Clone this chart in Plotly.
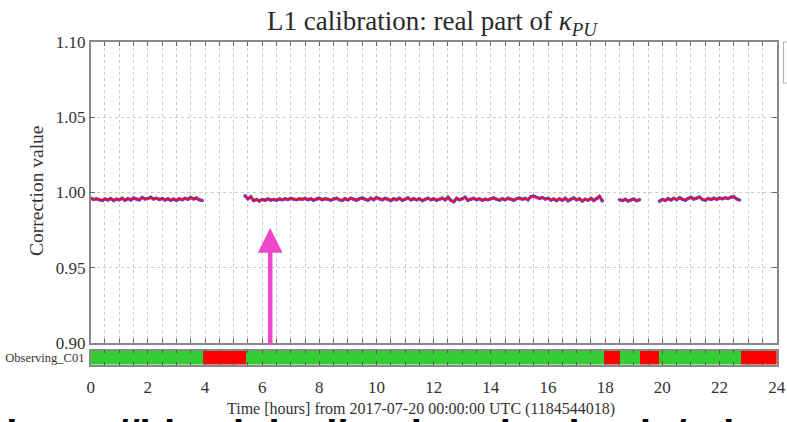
import numpy as np
import plotly.graph_objects as go

# Correction factor samples, one every 0.1 h, grouped by locked stretch
seg_starts = [0.0, 5.4, 18.5, 19.9]
seg1 = [0.9962, 0.9954, 0.9958, 0.9951, 0.9947, 0.9957, 0.9950, 0.9960, 0.9946, 0.9956,
        0.9952, 0.9961, 0.9948, 0.9959, 0.9950, 0.9963, 0.9955, 0.9951, 0.9966, 0.9957,
        0.9960, 0.9968, 0.9956, 0.9962, 0.9953, 0.9960, 0.9950, 0.9958, 0.9949, 0.9956,
        0.9947, 0.9959, 0.9952, 0.9961, 0.9955, 0.9967, 0.9957, 0.9963, 0.9951, 0.9946]
seg2 = [0.9978, 0.9958, 0.9972, 0.9946, 0.9954, 0.9944, 0.9953, 0.9948, 0.9957, 0.9950,
        0.9954, 0.9948, 0.9957, 0.9951, 0.9959, 0.9953, 0.9961, 0.9955, 0.9952, 0.9958,
        0.9955, 0.9961, 0.9951, 0.9958, 0.9949, 0.9956, 0.9962, 0.9952, 0.9959, 0.9955,
        0.9949, 0.9956, 0.9962, 0.9952, 0.9947, 0.9959, 0.9951, 0.9962, 0.9955, 0.9949,
        0.9958, 0.9964, 0.9955, 0.9948, 0.9961, 0.9952, 0.9966, 0.9957, 0.9951, 0.9961,
        0.9955, 0.9946, 0.9958, 0.9952, 0.9962, 0.9949, 0.9955, 0.9964, 0.9951, 0.9958,
        0.9952, 0.9958, 0.9946, 0.9955, 0.9962, 0.9951, 0.9958, 0.9948, 0.9955, 0.9962,
        0.9951, 0.9968, 0.9948, 0.9938, 0.9961, 0.9952, 0.9958, 0.9969, 0.9948, 0.9955,
        0.9962, 0.9952, 0.9958, 0.9948, 0.9955, 0.9952, 0.9958, 0.9964, 0.9955, 0.9949,
        0.9958, 0.9952, 0.9962, 0.9955, 0.9948, 0.9958, 0.9964, 0.9955, 0.9961, 0.9951,
        0.9972, 0.9976, 0.9966, 0.9960, 0.9967, 0.9956, 0.9962, 0.9950, 0.9957, 0.9946,
        0.9958, 0.9948, 0.9962, 0.9945, 0.9955, 0.9964, 0.9951, 0.9958, 0.9943, 0.9955,
        0.9948, 0.9961, 0.9946, 0.9958, 0.9974, 0.9944]
seg3 = [0.9952, 0.9946, 0.9955, 0.9943, 0.9950, 0.9956, 0.9945, 0.9951]
seg4 = [0.9942, 0.9954, 0.9947, 0.9959, 0.9950, 0.9961, 0.9952, 0.9965, 0.9955, 0.9949,
        0.9960, 0.9968, 0.9956, 0.9962, 0.9970, 0.9954, 0.9948, 0.9960, 0.9953, 0.9962,
        0.9955, 0.9963, 0.9958, 0.9965, 0.9960, 0.9968, 0.9972, 0.9957, 0.9950]
segments = [seg1, seg2, seg3, seg4]
sample_step = 0.1

# Observing_C01 state flag segments (hours)
flag_start = [0.0, 3.93, 5.42, 17.96, 18.52, 19.19, 19.87, 22.75]
flag_end = [3.93, 5.42, 17.96, 18.52, 19.19, 19.87, 22.75, 24.0]
flag_on = [True, False, True, False, True, False, True, False]

x_ticks = list(range(0, 25, 2))
y_ticks = [0.90, 0.95, 1.00, 1.05, 1.10]

# Join the stretches into one trace with gaps between them
t_all, v_all = [], []
for start, vals in zip(seg_starts, segments):
    t = np.round(start + sample_step * np.arange(len(vals)), 2)
    t_all += list(t) + [None]
    v_all += list(vals) + [None]

W, H = 787, 422
def px_x(p):
    return p / W
def px_y(p):
    return 1 - p / H

SERIF = "Liberation Serif, DejaVu Serif, serif"
AX_COLOR = "#8a8a8a"
GRID = "#cccccc"
TXT = "#333333"

fig = go.Figure()

fig.add_trace(go.Scatter(
    x=t_all, y=v_all, mode="lines+markers",
    line=dict(color="#4a4aff", width=3.2),
    marker=dict(color="#4a4aff", size=3.5), connectgaps=False,
    showlegend=False, hoverinfo="skip", xaxis="x", yaxis="y"))
fig.add_trace(go.Scatter(
    x=t_all, y=v_all, mode="lines",
    line=dict(color="#ff0a0a", width=1.8), connectgaps=False,
    showlegend=False, xaxis="x", yaxis="y"))

fig.add_trace(go.Bar(
    orientation="h",
    y=[0] * len(flag_start),
    x=[e - s for s, e in zip(flag_start, flag_end)],
    base=flag_start,
    width=1,
    marker=dict(color=["#33cc33" if on else "#ff0000" for on in flag_on],
                line=dict(width=0)),
    showlegend=False, xaxis="x2", yaxis="y2"))

# Link line running under the figure; only its top edge fits on the page
fig.add_trace(go.Scatter(
    x=[0.008], y=[0.08], mode="text",
    text=["https://ldas-jobs.ligo-la.caltech.edu/~detchar/summary/day/"],
    textposition="bottom right",
    textfont=dict(size=40, family="Liberation Sans, Arial, sans-serif",
                  color="#000", weight="bold"),
    cliponaxis=False, showlegend=False, hoverinfo="skip",
    xaxis="x3", yaxis="y3"))

x_dom = [px_x(90.7), px_x(776.7)]
half_hours = [i * 0.5 for i in range(49)]

fig.update_layout(
    width=W, height=H,
    margin=dict(l=0, r=0, t=0, b=0, autoexpand=False),
    paper_bgcolor="white", plot_bgcolor="rgba(0,0,0,0)",
    bargap=0,
    font=dict(family=SERIF, color=TXT),
    xaxis=dict(
        domain=x_dom, range=[0, 24], tickvals=half_hours, showticklabels=False,
        ticks="inside", ticklen=4, tickcolor="#666",
        showgrid=True, gridcolor=GRID, griddash="dot", gridwidth=1,
        showline=True, linecolor=AX_COLOR, linewidth=1.5, mirror="ticks",
        zeroline=False, anchor="y", automargin=False),
    yaxis=dict(
        domain=[px_y(342.7), px_y(42.3)], range=[0.90, 1.10],
        tickvals=y_ticks, tickformat=".2f",
        ticks="inside", ticklen=5, tickcolor="#666",
        tickfont=dict(size=17, family=SERIF, color=TXT),
        showgrid=True, gridcolor=GRID, griddash="dot", gridwidth=1,
        showline=True, linecolor=AX_COLOR, linewidth=1.5, mirror="ticks",
        zeroline=False, anchor="x", automargin=False),
    xaxis2=dict(
        domain=x_dom, range=[0, 24], tickvals=x_ticks,
        ticks="inside", ticklen=4, tickcolor="#555",
        minor=dict(dtick=0.5, ticks="inside", ticklen=3, tickcolor="#555"),
        tickfont=dict(size=17, family=SERIF, color=TXT),
        ticklabelstandoff=6,
        showgrid=False, showline=True, linecolor=AX_COLOR, linewidth=1.5,
        mirror="ticks", zeroline=False, anchor="y2", automargin=False),
    yaxis2=dict(
        domain=[px_y(364.5), px_y(350.5)], range=[-0.5, 0.5],
        tickvals=[0], ticktext=["Observing_C01"], ticks="",
        tickfont=dict(size=12.5, family=SERIF, color=TXT),
        ticklabelstandoff=2,
        showgrid=False, showline=True, linecolor=AX_COLOR, linewidth=1.5,
        mirror=True, zeroline=False, anchor="x2", automargin=False),
    xaxis3=dict(domain=[0, 1], range=[0, 1], visible=False, anchor="y3"),
    yaxis3=dict(domain=[0, px_y(380)], range=[0, 1], visible=False, anchor="x3"),
)

fig.update_layout(title=dict(
    text="L1 calibration: real part of <i>κ</i><sub><i>PU</i></sub>",
    x=px_x(432), xanchor="center", y=px_y(21), yanchor="middle",
    yref="container", xref="paper", automargin=False,
    font=dict(size=27, family=SERIF, color="#2a2a2a")))

fig.add_annotation(
    text="Correction value", textangle=-90, showarrow=False,
    xref="paper", yref="paper", x=px_x(37), y=px_y(191),
    xanchor="center", yanchor="middle",
    font=dict(size=19.5, family=SERIF, color=TXT))

fig.add_annotation(
    text="Time [hours] from 2017-07-20 00:00:00 UTC (1184544018)", showarrow=False,
    xref="paper", yref="paper", x=px_x(421), y=px_y(409),
    xanchor="center", yanchor="middle", bgcolor="rgba(0,0,0,0)",
    font=dict(size=16, family=SERIF, color=TXT))

# Pointer arrow below the trace
fig.add_annotation(
    x=6.28, y=0.9764, xref="x", yref="y",
    ax=0, ay=118, axref="pixel", ayref="pixel",
    showarrow=True, arrowhead=2, arrowsize=1.1, arrowwidth=4.5,
    arrowcolor="#ee48c8", standoff=0, startstandoff=0, text="")

# Edge of the legend box at the top right
fig.add_shape(
    type="rect", xref="paper", yref="paper",
    x0=px_x(783.5), x1=px_x(800), y0=px_y(83), y1=px_y(42),
    line=dict(color="#b5b5b5", width=1.2), fillcolor="rgba(0,0,0,0)")

fig.write_html("out.html")
